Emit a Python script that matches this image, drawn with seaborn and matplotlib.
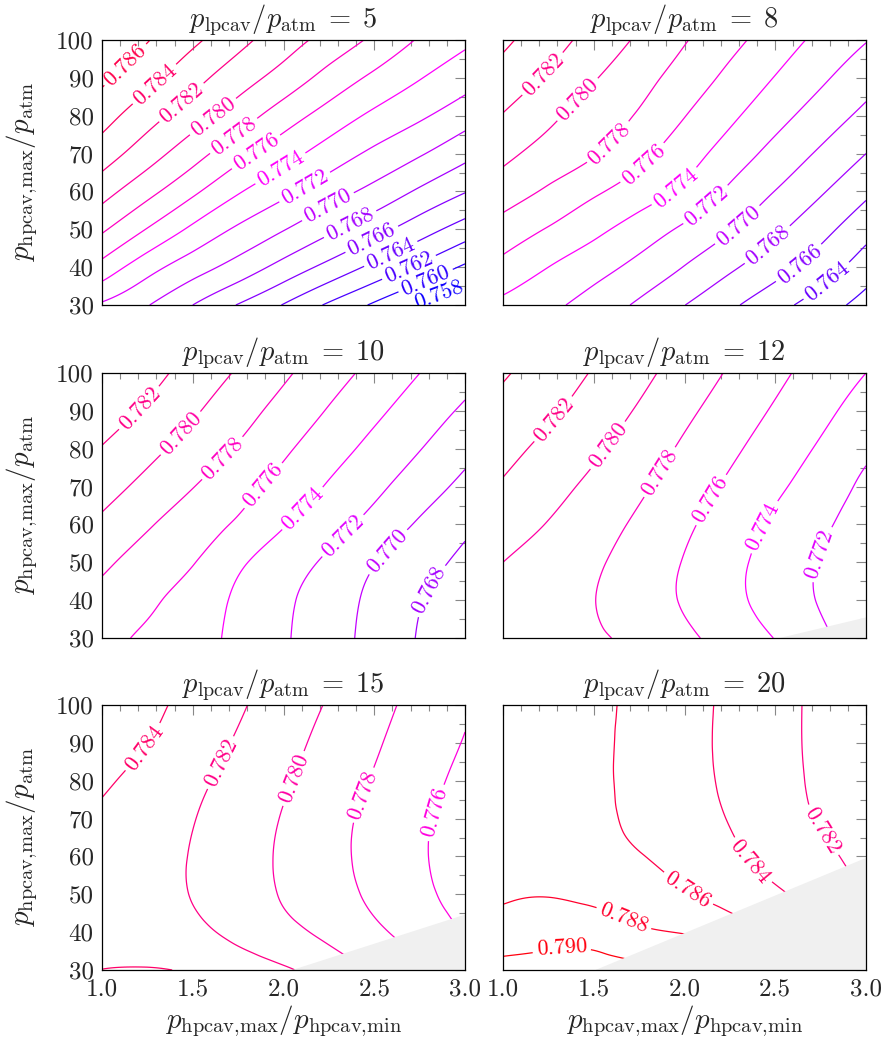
import numpy as np
import matplotlib
matplotlib.use("Agg")
import matplotlib.pyplot as plt
import matplotlib.tri as mtri
from matplotlib.ticker import MultipleLocator, FormatStrFormatter
import seaborn as sns

# ---------------- data ----------------
x_ratio = [1.0, 1.25, 1.5, 1.75, 2.0, 2.25, 2.5, 2.75, 3.0]      # p_hpcav,max / p_hpcav,min
y_ratio = [30, 40, 50, 60, 70, 80, 90, 100]                        # p_hpcav,max / p_atm
p_lpcav = [5, 8, 10, 12, 15, 20]

eff_p5 = [
    [0.7717, 0.7701, 0.7680, 0.7659, 0.7639, 0.7617, 0.7597, 0.7577, 0.7562],
    [0.7753, 0.7728, 0.7709, 0.7692, 0.7673, 0.7654, 0.7635, 0.7616, 0.7597],
    [0.7783, 0.7759, 0.7736, 0.7717, 0.7701, 0.7684, 0.7667, 0.7649, 0.7631],
    [0.7808, 0.7786, 0.7764, 0.7742, 0.7725, 0.7709, 0.7694, 0.7677, 0.7661],
    [0.7830, 0.7809, 0.7788, 0.7767, 0.7748, 0.7731, 0.7716, 0.7702, 0.7686],
    [0.7848, 0.7828, 0.7809, 0.7790, 0.7770, 0.7752, 0.7736, 0.7723, 0.7709],
    [0.7864, 0.7846, 0.7827, 0.7809, 0.7792, 0.7773, 0.7756, 0.7741, 0.7728],
    [0.7879, 0.7861, 0.7844, 0.7826, 0.7809, 0.7793, 0.7776, 0.7758, 0.7744],
]
eff_p8 = [
    [0.7735, 0.77246, 0.77119, 0.76968, 0.76803, 0.76638, 0.76469, 0.76302, 0.7612],
    [0.7754, 0.7740, 0.77276, 0.77143, 0.76993, 0.76833, 0.76675, 0.76501, 0.7630],
    [0.7772, 0.77586, 0.77451, 0.77312, 0.77167, 0.77015, 0.76843, 0.76664, 0.7647],
    [0.7790, 0.77770, 0.77633, 0.77501, 0.77355, 0.77167, 0.76996, 0.76822, 0.7664],
    [0.7805, 0.77926, 0.77815, 0.77658, 0.77489, 0.77312, 0.77136, 0.76971, 0.7680],
    [0.7819, 0.78043, 0.77911, 0.77780, 0.77606, 0.77439, 0.77270, 0.77108, 0.7695],
    [0.7832, 0.78172, 0.78015, 0.77870, 0.77716, 0.77552, 0.77392, 0.77234, 0.7708],
    [0.7844, 0.78284, 0.78129, 0.77970, 0.77814, 0.77659, 0.77503, 0.77350, 0.7721],
]
eff_p10 = [
    [0.7766, 0.77565, 0.77467, 0.77357, 0.77223, 0.77082, 0.76936, 0.76785, 0.7663],
    [0.7774, 0.77638, 0.77510, 0.77371, 0.77238, 0.77097, 0.76953, 0.76811, 0.7670],
    [0.7784, 0.77720, 0.77610, 0.77436, 0.77297, 0.77162, 0.77010, 0.76873, 0.7676],
    [0.7796, 0.77821, 0.77698, 0.77572, 0.77413, 0.77278, 0.77132, 0.76976, 0.7684],
    [0.7808, 0.77943, 0.77806, 0.77672, 0.77531, 0.77382, 0.77245, 0.77097, 0.7695],
    [0.7819, 0.78058, 0.77921, 0.77781, 0.77633, 0.77486, 0.77343, 0.77207, 0.7706],
    [0.7830, 0.78171, 0.78027, 0.77880, 0.77733, 0.77586, 0.77442, 0.77304, 0.7717],
    [0.7839, 0.78267, 0.78124, 0.77980, 0.77832, 0.77685, 0.77541, 0.77401, 0.7727],
]
eff_p12 = [
    [0.7790, 0.77861, 0.77822, 0.77753, 0.77642, 0.77522, 0.77394, 0.77242, 0.7707],
    [0.7794, 0.77872, 0.77804, 0.77696, 0.77582, 0.77453, 0.77319, 0.77186, 0.7708],
    [0.7800, 0.77916, 0.77828, 0.77715, 0.77590, 0.77456, 0.77320, 0.77189, 0.7710],
    [0.7809, 0.77991, 0.77882, 0.77767, 0.77636, 0.77501, 0.77365, 0.77232, 0.7713],
    [0.7818, 0.78068, 0.77955, 0.77833, 0.77702, 0.77567, 0.77436, 0.77302, 0.7716],
    [0.7826, 0.78149, 0.78033, 0.77904, 0.77770, 0.77638, 0.77507, 0.77377, 0.7724],
    [0.7834, 0.78233, 0.78110, 0.77980, 0.77842, 0.77709, 0.77578, 0.77448, 0.7732],
    [0.7842, 0.78308, 0.78185, 0.78053, 0.77917, 0.77780, 0.77648, 0.77518, 0.7740],
]
eff_p15 = [
    [0.78401, 0.78407, 0.7838, 0.78303, 0.78225, 0.78111, 0.77979, 0.77851, 0.77714],
    [0.7836, 0.7832, 0.7825, 0.78152, 0.78057, 0.77954, 0.77838, 0.77716, 0.7759],
    [0.7834, 0.78267, 0.78192, 0.78089, 0.77986, 0.77877, 0.77765, 0.77645, 0.7753],
    [0.7835, 0.78271, 0.78189, 0.78083, 0.77975, 0.77859, 0.77742, 0.77624, 0.7750],
    [0.7837, 0.78289, 0.78207, 0.78100, 0.77989, 0.77868, 0.77749, 0.77632, 0.7752],
    [0.7843, 0.78336, 0.78242, 0.78137, 0.78023, 0.77905, 0.77785, 0.77667, 0.7755],
    [0.7849, 0.78402, 0.78292, 0.78181, 0.78063, 0.77943, 0.77823, 0.77704, 0.7759],
    [0.7856, 0.78451, 0.78339, 0.78224, 0.78105, 0.77984, 0.77861, 0.77740, 0.7762],
]
eff_p20 = [
    [0.79045, 0.79074, 0.79093, 0.7906, 0.7900, 0.7890, 0.7880, 0.7870, 0.7860],
    [0.78908, 0.78932, 0.78914, 0.78831, 0.7879, 0.7870, 0.7859, 0.7849, 0.7839],
    [0.78771, 0.78790, 0.7875, 0.7870, 0.7862, 0.78525, 0.78430, 0.78319, 0.7822],
    [0.7874, 0.78696, 0.78653, 0.78609, 0.78526, 0.78434, 0.78338, 0.78242, 0.7814],
    [0.7873, 0.78681, 0.78631, 0.78568, 0.78481, 0.78392, 0.78290, 0.78186, 0.78084],
    [0.7872, 0.78673, 0.78626, 0.78558, 0.78465, 0.78369, 0.78267, 0.78164, 0.7806],
    [0.7871, 0.78667, 0.78625, 0.78559, 0.78461, 0.78362, 0.78260, 0.78159, 0.7806],
    [0.7870, 0.78662, 0.78625, 0.78566, 0.78466, 0.78365, 0.78261, 0.78159, 0.7806],
]
levels = [round(0.750 + 0.002 * k, 3) for k in range(24)]

# infeasible (grey) region: boundary line from bottom edge to right edge
gap_x_p12 = [2.51, 3.0]
gap_y_p12 = [30.0, 35.6]
gap_x_p15 = [2.037, 3.0]
gap_y_p15 = [30.0, 44.8]
gap_x_p20 = [1.50, 3.0]
gap_y_p20 = [30.0, 59.8]

# contour-label anchor points
lab_p5 = [(1.138, 93.0), (1.303, 87.6), (1.459, 82.3), (1.606, 80.1), (1.743, 73.5),
          (1.881, 68.2), (2.018, 63.3), (2.138, 59.4), (2.257, 54.9), (2.376, 50.5),
          (2.486, 47.4), (2.587, 43.9), (2.688, 40.3), (2.780, 36.8), (2.850, 33.6)]
lab_p8 = [(1.224, 90.8), (1.417, 84.0), (1.601, 72.0), (1.784, 66.7), (1.959, 60.5),
          (2.124, 56.1), (2.298, 50.8), (2.464, 45.5), (2.638, 40.6), (2.794, 35.7)]
lab_p10 = [(1.211, 90.5), (1.440, 83.8), (1.670, 77.2), (1.890, 70.2), (2.110, 64.0),
           (2.330, 56.9), (2.560, 53.4), (2.798, 42.8)]
lab_p12 = [(1.288, 87.4), (1.583, 80.7), (1.867, 73.7), (2.142, 66.6), (2.427, 59.6),
           (2.730, 52.5)]
lab_p15 = [(1.238, 88.5), (1.661, 84.6), (2.055, 80.6), (2.440, 76.2), (2.826, 71.7)]
lab_p20 = [(2.014, 51.0), (2.363, 58.5), (2.748, 66.5), (1.674, 44.4), (1.325, 35.1)]

panels = [
    (p_lpcav[0], eff_p5, lab_p5, None, None),
    (p_lpcav[1], eff_p8, lab_p8, None, None),
    (p_lpcav[2], eff_p10, lab_p10, None, None),
    (p_lpcav[3], eff_p12, lab_p12, gap_x_p12, gap_y_p12),
    (p_lpcav[4], eff_p15, lab_p15, gap_x_p15, gap_y_p15),
    (p_lpcav[5], eff_p20, lab_p20, gap_x_p20, gap_y_p20),
]

# ---------------- style ----------------
sns.set_theme(style="white")
plt.rcParams.update({
    "font.family": ["cmr10", "DejaVu Serif"],
    "mathtext.fontset": "cm",
    "axes.unicode_minus": False,
    "axes.formatter.use_mathtext": True,
    "axes.edgecolor": "black",
    "axes.linewidth": 0.9,
})

cmap = sns.blend_palette(["#0000ff", "#ff00ff", "#ff0000"], as_cmap=True)
norm = plt.Normalize(0.757, 0.791)

W, H = 889, 1052
fig = plt.figure(figsize=(W / 100, H / 100), dpi=100)
lefts = [102 / W, 503 / W]
tops = [40, 373, 705]
aw, ah = 363 / W, 265 / H

xs = np.array(x_ratio)
ys = np.array(y_ratio, dtype=float)
XX, YY = np.meshgrid((xs - 1.0) / 2.0, (ys - 30.0) / 70.0)
nx, ny = len(xs), len(ys)
tris = []
for j in range(ny - 1):
    for i in range(nx - 1):
        a = j * nx + i
        tris.append([a, a + 1, a + nx + 1])
        tris.append([a, a + nx + 1, a + nx])
tri_n = mtri.Triangulation(XX.ravel(), YY.ravel(), np.array(tris))
refiner = mtri.UniformTriRefiner(tri_n)

for k, (p, Z, labs, gx, gy) in enumerate(panels):
    r, c = divmod(k, 2)
    ax = fig.add_axes([lefts[c], (H - tops[r] - 265) / H, aw, ah])
    z = np.array(Z, dtype=float).ravel()
    tri_r, z_r = refiner.refine_field(z, subdiv=4)
    tri_d = mtri.Triangulation(1.0 + 2.0 * tri_r.x, 30.0 + 70.0 * tri_r.y, tri_r.triangles)
    cs = ax.tricontour(tri_d, z_r, levels=levels, cmap=cmap, norm=norm, linewidths=0.9)
    ax.set_xlim(1.0, 3.0)
    ax.set_ylim(30, 100)
    ax.clabel(cs, inline=True, fontsize=16, fmt="%.3f", manual=labs, inline_spacing=4)
    if gx is not None:
        ax.fill_between(gx, [30, 30], gy, color="#f0f0f0", lw=0, zorder=2.2)
    ax.xaxis.set_major_locator(MultipleLocator(0.5))
    ax.xaxis.set_minor_locator(MultipleLocator(0.1))
    ax.yaxis.set_major_locator(MultipleLocator(10))
    ax.yaxis.set_minor_locator(MultipleLocator(5))
    ax.xaxis.set_major_formatter(FormatStrFormatter("%.1f"))
    ax.yaxis.set_major_formatter(FormatStrFormatter("%d"))
    ax.tick_params(which="both", direction="in", top=True, right=True,
                   color="#888888", width=0.8, labelsize=18, pad=6)
    ax.tick_params(which="major", length=7)
    ax.tick_params(which="minor", length=4.5)
    if c == 1:
        ax.tick_params(labelleft=False)
    if r < 2:
        ax.tick_params(labelbottom=False)
    ax.set_title(r"$p_{\mathrm{lpcav}}/p_{\mathrm{atm}}\;=\;%d$" % p, fontsize=20.5, pad=9)
    if c == 0:
        ax.set_ylabel(r"$p_{\mathrm{hpcav{,}max}}/p_{\mathrm{atm}}$", fontsize=21)
        ax.yaxis.set_label_coords(-0.17, 0.5)
    if r == 2:
        ax.set_xlabel(r"$p_{\mathrm{hpcav{,}max}}/p_{\mathrm{hpcav{,}min}}$", fontsize=21)
        ax.xaxis.set_label_coords(0.5, -0.125)
    ax.set_facecolor("white")

fig.savefig("out.png", dpi=100)
